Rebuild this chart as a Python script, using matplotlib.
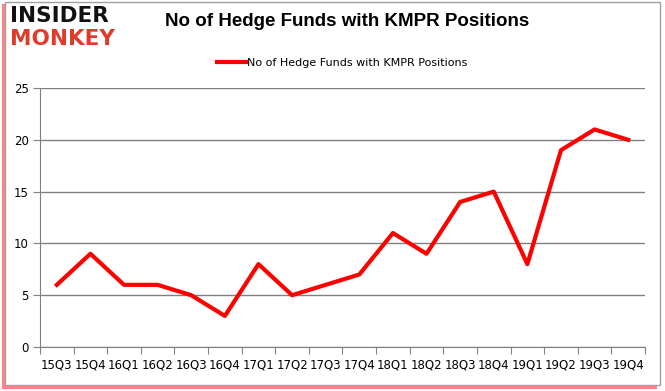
import matplotlib
matplotlib.use("Agg")
import matplotlib.pyplot as plt
from matplotlib.patches import Rectangle

quarters = ["15Q3", "15Q4", "16Q1", "16Q2", "16Q3", "16Q4", "17Q1", "17Q2", "17Q3",
            "17Q4", "18Q1", "18Q2", "18Q3", "18Q4", "19Q1", "19Q2", "19Q3", "19Q4"]
funds = [6, 9, 6, 6, 5, 3, 8, 5, 6, 7, 11, 9, 14, 15, 8, 19, 21, 20]
yticks = [0, 5, 10, 15, 20, 25]

W, H = 665, 391
fig = plt.figure(figsize=(W / 100, H / 100), dpi=100)

# frame with red shadow
fig.patches.append(Rectangle((2 / W, 2 / H), (W - 10) / W, (H - 6) / H, transform=fig.transFigure,
                             facecolor="#ff3030", edgecolor="none", alpha=0.6, zorder=-2))
fig.patches.append(Rectangle((5 / W, 6 / H), (W - 10) / W, (H - 8) / H, transform=fig.transFigure,
                             facecolor="white", edgecolor="#a0a0a0", lw=1, zorder=-1))

ax = fig.add_axes([40 / W, 44 / H, 605 / W, 259 / H])
x = list(range(len(quarters)))
ax.plot(x, funds, color="#ff0000", lw=3, label="No of Hedge Funds with KMPR Positions")
ax.set_xlim(-0.5, len(quarters) - 0.5)
ax.set_ylim(0, 25)
ax.set_yticks(yticks)
ax.set_xticks([i - 0.5 for i in range(len(quarters) + 1)])
ax.set_xticklabels([])
ax.set_xticks(x, minor=True)
ax.set_xticklabels(quarters, minor=True)
ax.tick_params(axis="x", which="minor", length=0, pad=8, labelsize=8.5)
ax.tick_params(axis="x", which="major", length=5, color="#808080")
ax.tick_params(axis="y", length=5, color="#808080", labelsize=8.5, pad=3)
ax.grid(axis="y", color="#808080", lw=1)
ax.set_axisbelow(True)
for s in ["top", "right"]:
    ax.spines[s].set_visible(False)
for s in ["left", "bottom"]:
    ax.spines[s].set_color("#808080")
ax.patch.set_alpha(0)

ax.legend(loc="lower center", bbox_to_anchor=(0.5, 1.04), frameon=False, fontsize=8,
          handlelength=2.6, handletextpad=0.1)

fig.text(347 / W, 1 - 22 / H, "No of Hedge Funds with KMPR Positions", ha="center", va="center",
         fontsize=13.5, fontweight="bold", family="Liberation Sans")
fig.text(10 / W, 1 - 16 / H, "INSIDER", ha="left", va="center", fontsize=15.5, fontweight="bold",
         color="#111111")
fig.text(10 / W, 1 - 39 / H, "MONKEY", ha="left", va="center", fontsize=15.5, fontweight="bold",
         color="#e03a2a")

fig.savefig("out.png", dpi=100)
